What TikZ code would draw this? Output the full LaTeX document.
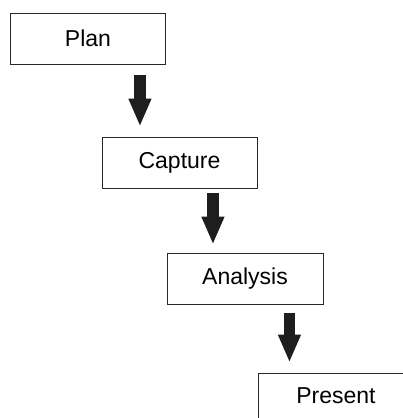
\documentclass[tikz,border=0pt]{standalone}
\usepackage{fontspec}
\setmainfont{Liberation Sans}
\usetikzlibrary{arrows.meta}
\tikzset{
  stage/.style={draw={rgb,255:red,40;green,40;blue,40}, line width=0.9pt, fill=white,
    minimum width=155pt, minimum height=51pt, inner sep=0pt,
    font=\fontsize{23}{27}\selectfont},
  flow/.style={draw={rgb,255:red,30;green,30;blue,30}, line width=11.5pt,
    -{Triangle[length=28pt,width=21pt,fill={rgb,255:red,30;green,30;blue,30}]}}
}
\begin{document}
\begin{tikzpicture}[x=1pt,y=1pt,yscale=-1,xscale=1]
\useasboundingbox (0,0) rectangle (403,418);
\clip (0,0) rectangle (403,418);

% Text Node
\node [stage] (plan) at (88,38.5) {Plan};
% Text Node
\node [stage] (capture) at (179.5,162.5) {Capture};
% Text Node
\node [stage, minimum width=156pt] (analysis) at (245,278.5) {Analysis};
% Text Node
\node [stage, minimum width=156pt, minimum height=45pt] (present) at (336,395.5) {Present};

%Straight Lines
\draw [flow, shorten <=11pt, shorten >=10pt] ([xshift=-26pt]plan.south east) -- ([xshift=-26pt]plan.south east |- capture.north);
%Straight Lines
\draw [flow, shorten <=5pt, shorten >=8pt] ([xshift=-44.5pt]capture.south east) -- ([xshift=-44.5pt]capture.south east |- analysis.north);
%Straight Lines
\draw [flow, shorten <=9pt, shorten >=10pt] ([xshift=-34pt]analysis.south east) -- ([xshift=-34pt]analysis.south east |- present.north);
\end{tikzpicture}
\end{document}
